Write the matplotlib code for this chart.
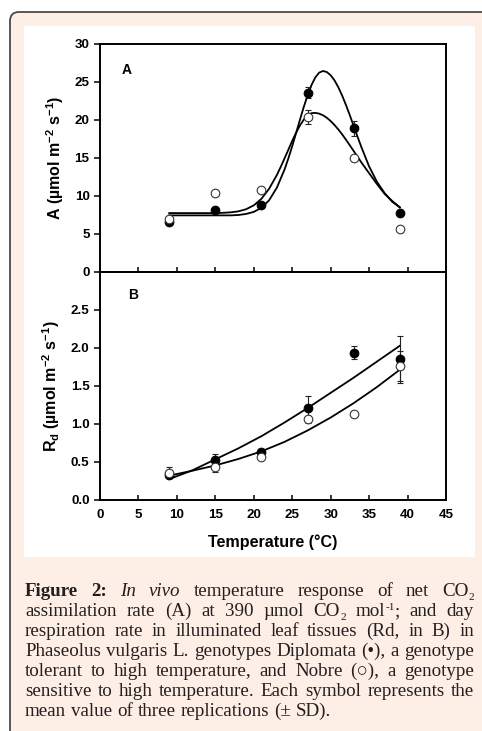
import re
import matplotlib
matplotlib.use("Agg")
import matplotlib.pyplot as plt
from matplotlib.patches import FancyBboxPatch, Rectangle
from matplotlib.transforms import IdentityTransform

plt.rcParams['font.family'] = ['Liberation Sans', 'DejaVu Sans']
plt.rcParams['font.weight'] = 'bold'
plt.rcParams['mathtext.fontset'] = 'custom'
plt.rcParams['mathtext.rm'] = 'Liberation Sans:bold'
plt.rcParams['mathtext.it'] = 'Liberation Sans:bold:italic'
plt.rcParams['mathtext.bf'] = 'Liberation Sans:bold'

# ---------------- data ----------------
temp = [9, 15, 21, 27, 33, 39]

A_dipl = [6.6, 8.2, 8.8, 23.6, 18.9, 7.7]
A_dipl_sd = [0.3, 0.3, 0.3, 0.7, 1.0, 0.3]
A_nobre = [7.0, 10.4, 10.8, 20.4, 15.0, 5.6]
A_nobre_sd = [0.3, 0.3, 0.3, 0.9, 0.3, 0.3]

Rd_dipl = [0.33, 0.53, 0.636, 1.215, 1.94, 1.85]
Rd_dipl_sd = [0.04, 0.08, 0.03, 0.16, 0.085, 0.31]
Rd_nobre = [0.36, 0.44, 0.57, 1.06, 1.13, 1.76]
Rd_nobre_sd = [0.07, 0.07, 0.03, 0.05, 0.03, 0.20]

# fitted curves
fitA_dipl_T = [9, 10, 11, 12, 13, 14, 15, 16, 17, 18, 19, 20, 21, 22, 23, 24,
               24.5, 25, 25.5, 26, 26.5, 27, 27.5, 28, 28.5, 29, 29.5, 30, 30.5,
               31, 31.5, 32, 32.5, 33, 33.5, 34, 35, 36, 37, 38, 39]
fitA_dipl = [7.45, 7.45, 7.45, 7.45, 7.45, 7.45, 7.45, 7.45, 7.45, 7.5, 7.64,
             7.91, 8.45, 9.45, 11.09, 13.48,
             14.95, 16.56, 18.28, 20.02, 21.71, 23.26, 24.59, 25.6, 26.23, 26.45,
             26.31, 25.89, 25.21, 24.3, 23.2, 21.95, 20.6, 19.2, 17.79, 16.42,
             13.89, 11.9, 10.4, 9.25, 8.5]
fitA_nobre_T = [9, 10, 11, 12, 13, 14, 15, 16, 17, 18, 19, 20, 21, 22, 23,
                23.5, 24, 24.5, 25, 25.5, 26, 26.5, 27, 27.5, 28, 28.5, 29, 29.5,
                30, 30.5, 31, 31.5, 32, 32.5, 33, 34, 35, 36, 37, 38, 39]
fitA_nobre = [7.75, 7.75, 7.75, 7.75, 7.75, 7.75, 7.75, 7.79, 7.85, 7.98, 8.26,
              8.77, 9.64, 10.96, 12.76,
              13.82, 14.95, 16.1, 17.25, 18.32, 19.27, 20.05, 20.6, 20.9, 20.94,
              20.84, 20.62, 20.29, 19.86, 19.34, 18.75, 18.1, 17.39, 16.66, 15.91,
              14.41, 13.0, 11.6, 10.3, 9.35, 8.5]

fitB_T = [9, 12, 15, 18, 21, 24, 27, 30, 33, 36, 39]
fitB_dipl = [0.275, 0.39, 0.535, 0.68, 0.84, 1.02, 1.21, 1.41, 1.61, 1.82, 2.03]
fitB_nobre = [0.32, 0.385, 0.455, 0.54, 0.64, 0.765, 0.915, 1.085, 1.275, 1.485, 1.715]

xticks = [0, 5, 10, 15, 20, 25, 30, 35, 40, 45]
A_yticks = [0, 5, 10, 15, 20, 25, 30]
B_yticks = [0.0, 0.5, 1.0, 1.5, 2.0, 2.5]
B_yticklabels = ["0.0", "0.5", "1.0", "1.5", "2.0", "2.5"]

caption_lines = [
    "**Figure **2: //In //vivo temperature response of net CO_{2}",
    "assimilation rate (A) at 390 µmol CO_{2} mol^{-1}; and day",
    "respiration rate in illuminated leaf tissues (Rd, in B) in",
    "Phaseolus vulgaris L. genotypes Diplomata (•), a genotype",
    "tolerant to high temperature, and Nobre (○), a genotype",
    "sensitive to high temperature. Each symbol represents the",
    "mean value of three replications (± SD).",
]

# ---------------- figure ----------------
W, H = 482, 731
fig = plt.figure(figsize=(W / 100, H / 100), dpi=100)
fig.patch.set_facecolor('white')

# rounded pink frame (cut at right / bottom)
frame = FancyBboxPatch((10, -30), 520, H - 12 + 30,
                       boxstyle="round,pad=0,rounding_size=9",
                       transform=IdentityTransform(), facecolor='#fdeee6',
                       edgecolor='#4a4a4a', linewidth=1.3, zorder=-3)
fig.add_artist(frame)
inner = Rectangle((24, H - 557), 451, 557 - 26, transform=IdentityTransform(),
                  facecolor='white', edgecolor='none', zorder=-2)
fig.add_artist(inner)

left = 100 / W
width = 346 / W
hA = 228 / H
axA = fig.add_axes([left, (H - 272) / H, width, hA])
axB = fig.add_axes([left, (H - 500) / H, width, hA])

TICK_FS = 9.6
for ax in (axA, axB):
    ax.set_facecolor('none')
    for sp in ax.spines.values():
        sp.set_linewidth(1.4)
    ax.set_xlim(0, 45)
    ax.set_xticks(xticks)
    ax.tick_params(axis='y', direction='out', length=4, width=1.1,
                   labelsize=TICK_FS, pad=3.5, right=False)
    ax.tick_params(axis='x', direction='in', length=3.6, width=1.1,
                   labelsize=TICK_FS, pad=6.5, top=False)


def draw_series(ax, x, y, sd, filled):
    ax.errorbar(x, y, yerr=sd, fmt='none', ecolor='#222222', elinewidth=0.8,
                capsize=2.4, capthick=0.8, zorder=4)
    if filled:
        ax.plot(x, y, 'o', ms=6.2, mfc='black', mec='black', mew=0.8,
                linestyle='none', zorder=5)
    else:
        ax.plot(x, y, 'o', ms=6.2, mfc='white', mec='#333333', mew=0.8,
                linestyle='none', zorder=6)


# Panel A
axA.plot(fitA_dipl_T, fitA_dipl, color='black', lw=1.3, zorder=3)
axA.plot(fitA_nobre_T, fitA_nobre, color='black', lw=1.3, zorder=3)
draw_series(axA, temp, A_dipl, A_dipl_sd, True)
draw_series(axA, temp, A_nobre, A_nobre_sd, False)
axA.set_ylim(0, 30)
axA.set_yticks(A_yticks)
axA.set_yticklabels([str(v) for v in A_yticks])
axA.tick_params(axis='x', labelbottom=False)
axA.text(0.077, 0.888, "A", transform=axA.transAxes, fontsize=10,
         fontweight='bold', ha='center', va='center')
axA.set_ylabel("A (µmol m$^{-2}$ s$^{-1}$)", fontsize=11.5, fontweight='bold',
               labelpad=6)

# Panel B
axB.plot(fitB_T, fitB_dipl, color='black', lw=1.3, zorder=3)
axB.plot(fitB_T, fitB_nobre, color='black', lw=1.3, zorder=3)
draw_series(axB, temp, Rd_dipl, Rd_dipl_sd, True)
draw_series(axB, temp, Rd_nobre, Rd_nobre_sd, False)
axB.set_ylim(0, 3.0)
axB.set_yticks(B_yticks)
axB.set_yticklabels(B_yticklabels)
axB.set_xticklabels([str(v) for v in xticks])
axB.text(0.095, 0.9, "B", transform=axB.transAxes, fontsize=10,
         fontweight='bold', ha='center', va='center')
axB.set_ylabel(r"R$_\mathrm{d}$ (µmol m$^{-2}$ s$^{-1}$)", fontsize=11.5,
               fontweight='bold', labelpad=6)
axB.set_xlabel("Temperature (°C)", fontsize=11.6, fontweight='bold', labelpad=9.5)

fig.align_ylabels([axA, axB])

# ---------------- caption (justified) ----------------
CAP_FAMILY = ['Liberation Serif', 'DejaVu Serif']
CAP_SIZE = 13.7
renderer = fig.canvas.get_renderer()


def parse_word(w):
    weight, style = 'normal', 'normal'
    if w.startswith('**'):
        weight = 'bold'
        w = w[2:]
    if w.startswith('//'):
        style = 'italic'
        w = w[2:]
    segs = []
    for part in re.split(r'(_\{[^}]*\}|\^\{[^}]*\})', w):
        if not part:
            continue
        if part.startswith('_{'):
            segs.append((part[2:-1], weight, style, 0.6, -3.8))
        elif part.startswith('^{'):
            segs.append((part[2:-1], weight, style, 0.6, 6.0))
        else:
            segs.append((part, weight, style, 1.0, 0.0))
    return segs


def make_seg(text, weight, style, scale):
    t = fig.text(0, 0, text, family=CAP_FAMILY, fontsize=CAP_SIZE * scale,
                 fontweight=weight, fontstyle=style, color='#231f20',
                 ha='left', va='baseline')
    wpx = t.get_window_extent(renderer).width
    return t, wpx


x0, x1 = 25.0, 474.0
base0, step = 596.0, 19.95
space_px = 0.25 * CAP_SIZE * 100 / 72
for li, line in enumerate(caption_lines):
    words = []
    for w in line.split(' '):
        segs = parse_word(w)
        items = []
        tot = 0.0
        for (txt, wt, st, sc, dy) in segs:
            t, wpx = make_seg(txt, wt, st, sc)
            items.append((t, wpx, dy))
            tot += wpx
        words.append((items, tot))
    natural = sum(w[1] for w in words)
    if li < len(caption_lines) - 1 and len(words) > 1:
        gap = (x1 - x0 - natural) / (len(words) - 1)
    else:
        gap = space_px
    yb = base0 + li * step
    cx = x0
    for items, tot in words:
        sx = cx
        for (t, wpx, dy) in items:
            t.set_position((sx / W, 1 - (yb - dy) / H))
            sx += wpx + 0.3
        cx += tot + gap

fig.savefig('out.png', dpi=100)
